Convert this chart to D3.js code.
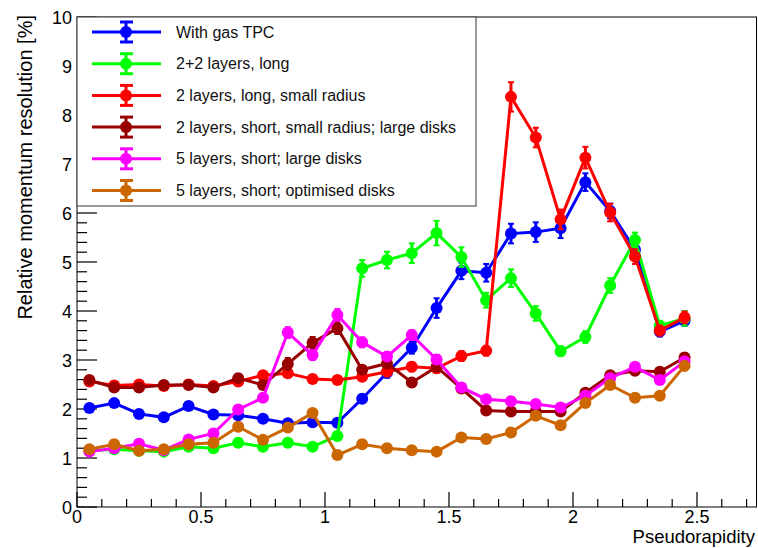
<!DOCTYPE html>
<html>
<head>
<meta charset="utf-8">
<script src="https://cdn.jsdelivr.net/npm/d3@7"></script>
<style>
body { margin: 0; background: #fff; }
svg { font-family: "Liberation Sans", Arial, Helvetica, sans-serif; }
</style>
</head>
<body>
<svg width="758" height="548"></svg>
<script>
// eta bin centres
var eta = [0.05,0.15,0.25,0.35,0.45,0.55,0.65,0.75,0.85,0.95,1.05,1.15,1.25,1.35,1.45,1.55,1.65,1.75,1.85,1.95,2.05,2.15,2.25,2.35,2.45];

var nomes = ['With gas TPC', '2+2 layers, long', '2 layers, long, small radius',
  '2 layers, short, small radius; large disks', '5 layers, short; large disks', '5 layers, short; optimised disks'];
var cores = ['#0000ff', '#00ff00', '#ff0000', '#990000', '#ff00ff', '#cc6600'];

var tpc = [2.02,2.12,1.90,1.83,2.06,1.89,1.87,1.80,1.71,1.73,1.72,2.21,2.74,3.25,4.06,4.82,4.78,5.58,5.61,5.69,6.63,6.04,5.25,3.58,3.80];
var tpcErr = [0.07,0.07,0.06,0.06,0.07,0.06,0.06,0.06,0.06,0.06,0.06,0.08,0.10,0.12,0.20,0.17,0.18,0.20,0.20,0.20,0.18,0.15,0.15,0.10,0.10];

var longo = [1.15,1.18,1.15,1.13,1.23,1.20,1.31,1.23,1.31,1.23,1.45,4.87,5.04,5.18,5.59,5.10,4.22,4.67,3.95,3.18,3.47,4.52,5.45,3.70,3.85];
var longoErr = [0.04,0.04,0.04,0.04,0.04,0.04,0.05,0.04,0.05,0.04,0.05,0.17,0.17,0.20,0.25,0.20,0.15,0.18,0.15,0.10,0.12,0.15,0.15,0.10,0.15];

var raioPeq = [2.56,2.48,2.50,2.47,2.50,2.47,2.56,2.69,2.73,2.61,2.59,2.66,2.76,2.86,2.83,3.08,3.19,8.37,7.54,5.87,7.13,6.01,5.11,3.60,3.87];
var raioPeqErr = [0.08,0.08,0.08,0.08,0.08,0.08,0.08,0.08,0.08,0.08,0.08,0.08,0.09,0.09,0.09,0.10,0.10,0.30,0.20,0.20,0.22,0.18,0.15,0.10,0.12];

var curto = [2.59,2.44,2.44,2.49,2.49,2.44,2.63,2.49,2.92,3.35,3.65,2.80,2.93,2.54,2.86,2.42,1.97,1.95,1.95,1.95,2.33,2.69,2.78,2.76,3.05];
var curtoErr = [0.07,0.07,0.07,0.07,0.07,0.07,0.08,0.08,0.12,0.12,0.12,0.08,0.08,0.08,0.08,0.07,0.06,0.06,0.06,0.06,0.07,0.08,0.08,0.08,0.09];

var cincoGr = [1.13,1.20,1.29,1.16,1.38,1.50,1.99,2.23,3.56,3.10,3.92,3.36,3.07,3.51,3.01,2.44,2.20,2.16,2.10,2.03,2.27,2.63,2.86,2.59,2.97];
var cincoGrErr = [0.04,0.04,0.04,0.04,0.05,0.05,0.06,0.07,0.11,0.10,0.12,0.10,0.09,0.10,0.09,0.07,0.06,0.06,0.06,0.06,0.07,0.08,0.08,0.08,0.09];

var cincoOt = [1.18,1.28,1.15,1.18,1.28,1.31,1.64,1.37,1.62,1.92,1.06,1.28,1.20,1.16,1.13,1.42,1.39,1.52,1.86,1.67,2.12,2.49,2.23,2.27,2.88];
var cincoOtErr = [0.04,0.04,0.04,0.04,0.04,0.04,0.05,0.04,0.05,0.06,0.04,0.04,0.04,0.04,0.04,0.05,0.05,0.05,0.06,0.05,0.07,0.08,0.07,0.07,0.09];

var series = [[tpc, tpcErr], [longo, longoErr], [raioPeq, raioPeqErr], [curto, curtoErr], [cincoGr, cincoGrErr], [cincoOt, cincoOtErr]];

var xTicks = [0, 0.5, 1, 1.5, 2, 2.5];
var yTicks = [0,1,2,3,4,5,6,7,8,9,10];

var esq = 77, dir = 756.5, topo = 17, base = 507;
var svg = d3.select("svg");
var x = d3.scaleLinear().domain([0, 2.74]).range([esq, dir]);
var y = d3.scaleLinear().domain([0, 10]).range([base, topo]);

// moldura
svg.append('rect').attr('x', esq).attr('y', topo).attr('width', dir - esq).attr('height', base - topo)
  .attr('fill', 'none').attr('stroke', '#000').attr('stroke-width', 1);

// eixo x: marcas menores a cada 0.1
var xMin = d3.range(0, 28).map(i => i / 10);
var eixoX = svg.append('g').attr('stroke', '#000').attr('stroke-width', 1.2);
xMin.forEach(v => {
  var grande = Math.abs(v * 2 - Math.round(v * 2)) < 1e-6;
  eixoX.append('line').attr('x1', x(v)).attr('x2', x(v)).attr('y1', base).attr('y2', base - (grande ? 15 : 8));
});
svg.selectAll('.xlab').data(xTicks).enter().append('text')
  .attr('x', d => x(d)).attr('y', 523).attr('text-anchor', 'middle').attr('font-size', 18).text(d => d);

// eixo y: marcas menores a cada 0.2
var yMin = d3.range(0, 51).map(i => i / 5);
var eixoY = svg.append('g').attr('stroke', '#000').attr('stroke-width', 1.2);
yMin.forEach(v => {
  var grande = Math.abs(v - Math.round(v)) < 1e-6;
  eixoY.append('line').attr('x1', esq).attr('x2', esq + (grande ? 20 : 10)).attr('y1', y(v)).attr('y2', y(v));
});
svg.selectAll('.ylab').data(yTicks).enter().append('text')
  .attr('x', 72).attr('y', d => y(d) + 6.5).attr('text-anchor', 'end').attr('font-size', 18).text(d => d);

svg.append('text').attr('x', 755).attr('y', 543).attr('text-anchor', 'end').attr('font-size', 18.5).text('Pseudorapidity');
svg.append('text').attr('transform', 'translate(32,15) rotate(-90)').attr('text-anchor', 'end')
  .attr('font-size', 20).text('Relative momentum resolution [%]');

// curvas
var linha = d3.line().x((d, i) => x(eta[i])).y(d => y(d));
series.forEach((s, k) => {
  var g = svg.append('g');
  var cor = cores[k];
  g.append('path').attr('d', linha(s[0])).attr('fill', 'none').attr('stroke', cor).attr('stroke-width', 3);
  s[0].forEach((v, i) => {
    var px = x(eta[i]), e = s[1][i];
    g.append('line').attr('x1', px).attr('x2', px).attr('y1', y(v - e)).attr('y2', y(v + e)).attr('stroke', cor).attr('stroke-width', 3);
    g.append('line').attr('x1', px - 3).attr('x2', px + 3).attr('y1', y(v - e)).attr('y2', y(v - e)).attr('stroke', cor).attr('stroke-width', 2);
    g.append('line').attr('x1', px - 3).attr('x2', px + 3).attr('y1', y(v + e)).attr('y2', y(v + e)).attr('stroke', cor).attr('stroke-width', 2);
    g.append('circle').attr('cx', px).attr('cy', y(v)).attr('r', 6).attr('fill', cor);
  });
});

// legenda
var leg = svg.append('g');
leg.append('rect').attr('x', esq).attr('y', topo).attr('width', 476 - esq).attr('height', 206 - topo)
  .attr('fill', '#fff').attr('stroke', '#555').attr('stroke-width', 1.2);
nomes.forEach((n, k) => {
  var ly = 32 + k * 31.7;
  var cor = cores[k];
  leg.append('line').attr('x1', 92).attr('x2', 161).attr('y1', ly).attr('y2', ly).attr('stroke', cor).attr('stroke-width', 3);
  leg.append('line').attr('x1', 126).attr('x2', 126).attr('y1', ly - 10).attr('y2', ly + 10).attr('stroke', cor).attr('stroke-width', 3);
  leg.append('line').attr('x1', 120).attr('x2', 133).attr('y1', ly - 10).attr('y2', ly - 10).attr('stroke', cor).attr('stroke-width', 3);
  leg.append('line').attr('x1', 120).attr('x2', 133).attr('y1', ly + 10).attr('y2', ly + 10).attr('stroke', cor).attr('stroke-width', 3);
  leg.append('circle').attr('cx', 126).attr('cy', ly).attr('r', 6).attr('fill', cor);
  leg.append('text').attr('x', 176).attr('y', ly + 5.5).attr('font-size', 16).attr('fill', '#111').text(n);
});
</script>
</body>
</html>
